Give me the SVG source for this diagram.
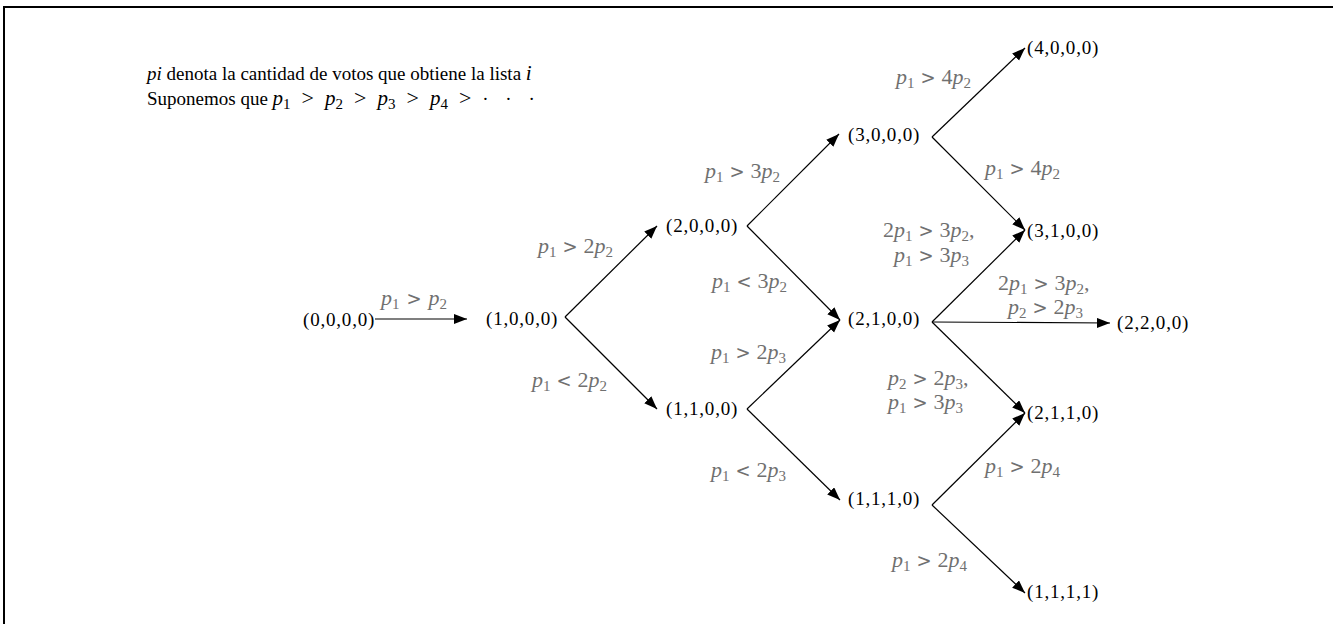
<svg xmlns="http://www.w3.org/2000/svg" width="1333" height="624" viewBox="0 0 1333 624">
<style>
.nd{font-family:"Liberation Serif",serif;font-size:19px;letter-spacing:0.8px;fill:#000}
.lb{font-family:"Liberation Serif",serif;font-size:22px;fill:#707070}
.hd{font-family:"Liberation Serif",serif;font-size:19px;fill:#000}
.v{font-style:italic}
.s{font-size:15px}
.r{font-family:"DejaVu Serif",serif;font-size:18px}
.hr{font-size:22px}
.hm{font-size:21px}
.e{stroke:#000;stroke-width:1.2;fill:none;marker-end:url(#ah)}
</style>
<defs>
<marker id="ah" markerUnits="userSpaceOnUse" markerWidth="14" markerHeight="11" refX="13" refY="5" orient="auto">
<path d="M0,0 L13,5 L0,10 z" fill="#000"/>
</marker>
</defs>
<rect width="1333" height="624" fill="#fff"/>
<path d="M4,624 V7 H1333" stroke="#000" stroke-width="2" fill="none"/>

<g id="header">
<text class="hd" x="147" y="80"><tspan class="v">pi</tspan> denota la cantidad de votos que obtiene la lista <tspan class="v hm">i</tspan></text>
<text class="hd" x="147" y="105">Suponemos que <tspan class="v hm">p</tspan><tspan class="s" dy="4">1</tspan><tspan class="hr" dy="-4" dx="11">&gt;</tspan><tspan class="v hm" dx="11">p</tspan><tspan class="s" dy="4">2</tspan><tspan class="hr" dy="-4" dx="11">&gt;</tspan><tspan class="v hm" dx="11">p</tspan><tspan class="s" dy="4">3</tspan><tspan class="hr" dy="-4" dx="11">&gt;</tspan><tspan class="v hm" dx="11">p</tspan><tspan class="s" dy="4">4</tspan><tspan class="hr" dy="-4" dx="11">&gt;</tspan><tspan dx="11" letter-spacing="6">· · ·</tspan></text>
</g>

<g id="connectors">
<path class="e" d="M375,319 H467"/>
<path class="e" d="M565,317 L657,226"/>
<path class="e" d="M565,317 L657,409"/>
<path class="e" d="M747,226 L839,134"/>
<path class="e" d="M747,226 L840,320"/>
<path class="e" d="M747,409 L840,320"/>
<path class="e" d="M747,409 L840,500"/>
<path class="e" d="M932,137 L1025,48"/>
<path class="e" d="M932,137 L1025,230"/>
<path class="e" d="M932,322 L1025,230"/>
<path class="e" d="M932,322 L1110,323"/>
<path class="e" d="M932,322 L1025,413"/>
<path class="e" d="M932,505 L1025,413"/>
<path class="e" d="M932,505 L1025,593"/>
</g>

<g id="labels">
<text class="lb" x="381" y="305"><tspan class="v">p</tspan><tspan class="s" dy="4">1</tspan><tspan class="r" dy="-4" dx="7">&gt;</tspan><tspan class="v" dx="7">p</tspan><tspan class="s" dy="4">2</tspan></text>
<text class="lb" x="538" y="253"><tspan class="v">p</tspan><tspan class="s" dy="4">1</tspan><tspan class="r" dy="-4" dx="6">&gt;</tspan><tspan dx="6">2</tspan><tspan class="v">p</tspan><tspan class="s" dy="4">2</tspan></text>
<text class="lb" x="532" y="387"><tspan class="v">p</tspan><tspan class="s" dy="4">1</tspan><tspan class="r" dy="-4" dx="6">&lt;</tspan><tspan dx="6">2</tspan><tspan class="v">p</tspan><tspan class="s" dy="4">2</tspan></text>
<text class="lb" x="705" y="178"><tspan class="v">p</tspan><tspan class="s" dy="4">1</tspan><tspan class="r" dy="-4" dx="6">&gt;</tspan><tspan dx="6">3</tspan><tspan class="v">p</tspan><tspan class="s" dy="4">2</tspan></text>
<text class="lb" x="712" y="288"><tspan class="v">p</tspan><tspan class="s" dy="4">1</tspan><tspan class="r" dy="-4" dx="6">&lt;</tspan><tspan dx="6">3</tspan><tspan class="v">p</tspan><tspan class="s" dy="4">2</tspan></text>
<text class="lb" x="711" y="359"><tspan class="v">p</tspan><tspan class="s" dy="4">1</tspan><tspan class="r" dy="-4" dx="6">&gt;</tspan><tspan dx="6">2</tspan><tspan class="v">p</tspan><tspan class="s" dy="4">3</tspan></text>
<text class="lb" x="711" y="477"><tspan class="v">p</tspan><tspan class="s" dy="4">1</tspan><tspan class="r" dy="-4" dx="6">&lt;</tspan><tspan dx="6">2</tspan><tspan class="v">p</tspan><tspan class="s" dy="4">3</tspan></text>
<text class="lb" x="896" y="84"><tspan class="v">p</tspan><tspan class="s" dy="4">1</tspan><tspan class="r" dy="-4" dx="6">&gt;</tspan><tspan dx="6">4</tspan><tspan class="v">p</tspan><tspan class="s" dy="4">2</tspan></text>
<text class="lb" x="985" y="175"><tspan class="v">p</tspan><tspan class="s" dy="4">1</tspan><tspan class="r" dy="-4" dx="6">&gt;</tspan><tspan dx="6">4</tspan><tspan class="v">p</tspan><tspan class="s" dy="4">2</tspan></text>
<text class="lb" x="883" y="237">2<tspan class="v">p</tspan><tspan class="s" dy="4">1</tspan><tspan class="r" dy="-4" dx="6">&gt;</tspan><tspan dx="6">3</tspan><tspan class="v">p</tspan><tspan class="s" dy="4">2</tspan><tspan dy="-4">,</tspan></text>
<text class="lb" x="894" y="262"><tspan class="v">p</tspan><tspan class="s" dy="4">1</tspan><tspan class="r" dy="-4" dx="6">&gt;</tspan><tspan dx="6">3</tspan><tspan class="v">p</tspan><tspan class="s" dy="4">3</tspan></text>
<text class="lb" x="998" y="290">2<tspan class="v">p</tspan><tspan class="s" dy="4">1</tspan><tspan class="r" dy="-4" dx="6">&gt;</tspan><tspan dx="6">3</tspan><tspan class="v">p</tspan><tspan class="s" dy="4">2</tspan><tspan dy="-4">,</tspan></text>
<text class="lb" x="1008" y="314"><tspan class="v">p</tspan><tspan class="s" dy="4">2</tspan><tspan class="r" dy="-4" dx="6">&gt;</tspan><tspan dx="6">2</tspan><tspan class="v">p</tspan><tspan class="s" dy="4">3</tspan></text>
<text class="lb" x="888" y="385"><tspan class="v">p</tspan><tspan class="s" dy="4">2</tspan><tspan class="r" dy="-4" dx="6">&gt;</tspan><tspan dx="6">2</tspan><tspan class="v">p</tspan><tspan class="s" dy="4">3</tspan><tspan dy="-4">,</tspan></text>
<text class="lb" x="888" y="409"><tspan class="v">p</tspan><tspan class="s" dy="4">1</tspan><tspan class="r" dy="-4" dx="6">&gt;</tspan><tspan dx="6">3</tspan><tspan class="v">p</tspan><tspan class="s" dy="4">3</tspan></text>
<text class="lb" x="985" y="473"><tspan class="v">p</tspan><tspan class="s" dy="4">1</tspan><tspan class="r" dy="-4" dx="6">&gt;</tspan><tspan dx="6">2</tspan><tspan class="v">p</tspan><tspan class="s" dy="4">4</tspan></text>
<text class="lb" x="892" y="567"><tspan class="v">p</tspan><tspan class="s" dy="4">1</tspan><tspan class="r" dy="-4" dx="6">&gt;</tspan><tspan dx="6">2</tspan><tspan class="v">p</tspan><tspan class="s" dy="4">4</tspan></text>
</g>

<g id="n0000"><text class="nd" x="303" y="326">(0,0,0,0)</text></g>
<g id="n1000"><text class="nd" x="486" y="325">(1,0,0,0)</text></g>
<g id="n2000"><text class="nd" x="666" y="232">(2,0,0,0)</text></g>
<g id="n1100"><text class="nd" x="666" y="415">(1,1,0,0)</text></g>
<g id="n3000"><text class="nd" x="848" y="141">(3,0,0,0)</text></g>
<g id="n2100"><text class="nd" x="848" y="325">(2,1,0,0)</text></g>
<g id="n1110"><text class="nd" x="848" y="505">(1,1,1,0)</text></g>
<g id="n4000"><text class="nd" x="1027" y="54">(4,0,0,0)</text></g>
<g id="n3100"><text class="nd" x="1027" y="237">(3,1,0,0)</text></g>
<g id="n2200"><text class="nd" x="1117" y="329">(2,2,0,0)</text></g>
<g id="n2110"><text class="nd" x="1027" y="419">(2,1,1,0)</text></g>
<g id="n1111"><text class="nd" x="1027" y="598">(1,1,1,1)</text></g>
</svg>
